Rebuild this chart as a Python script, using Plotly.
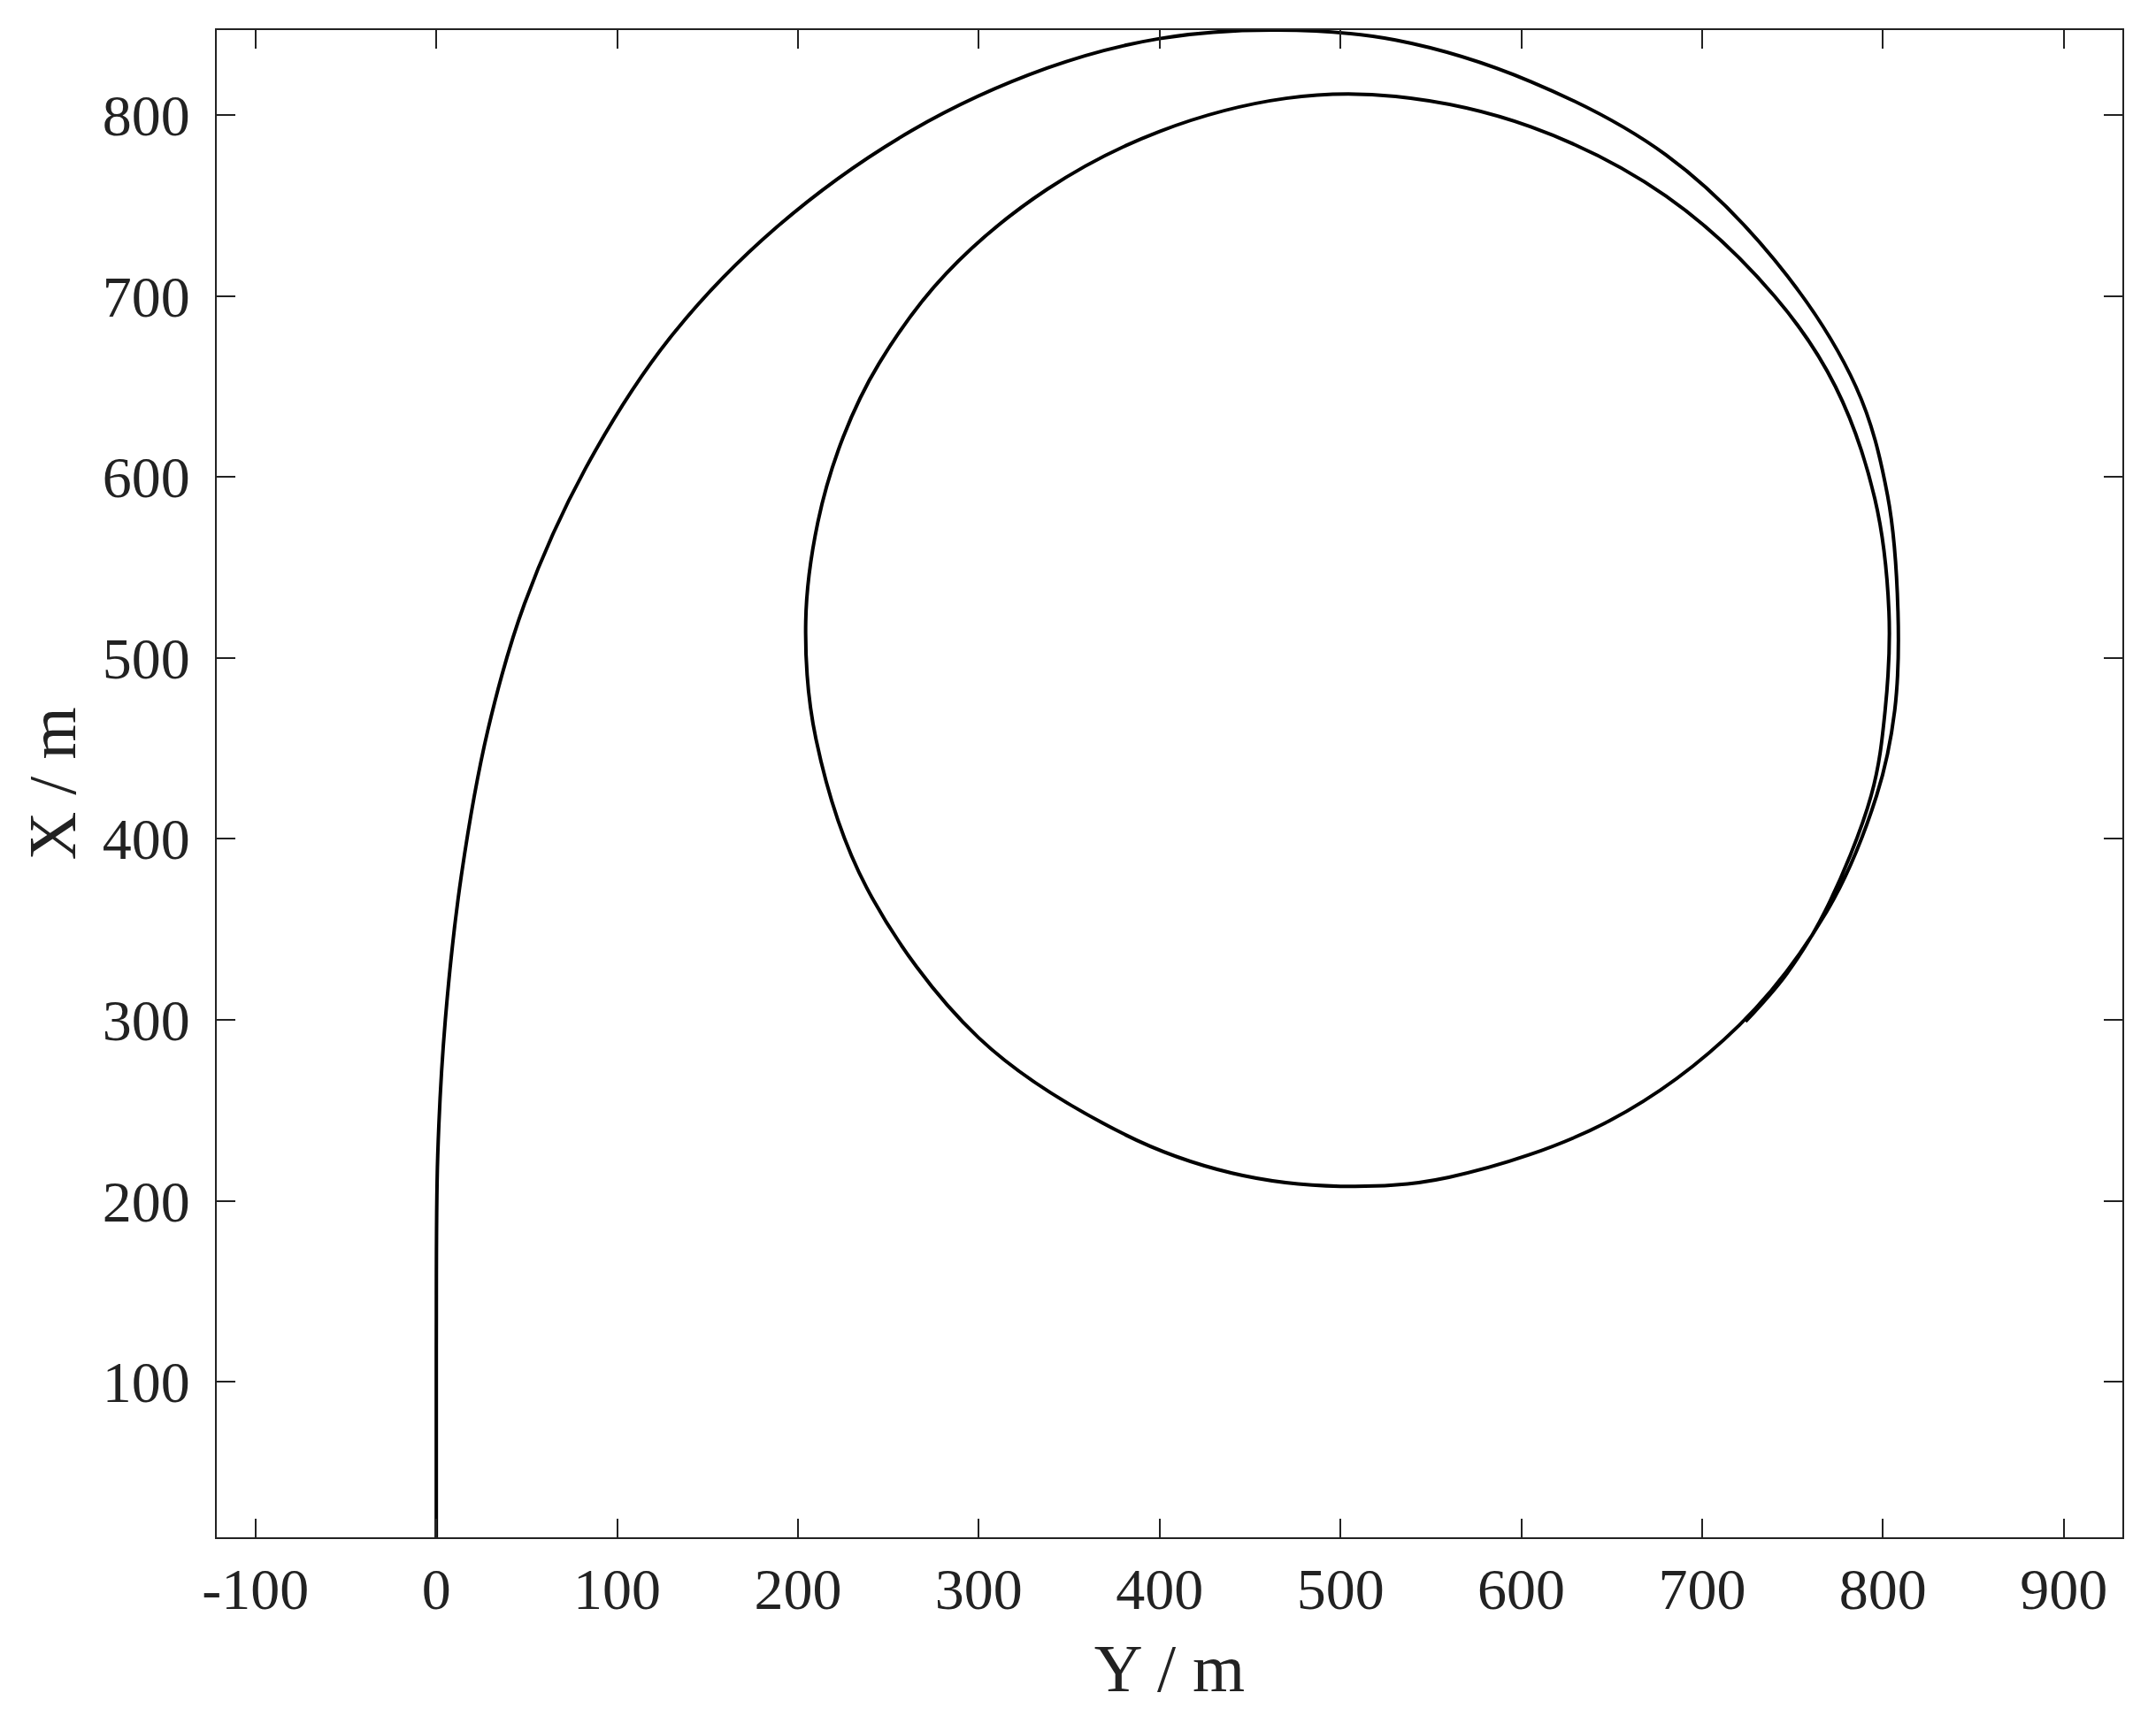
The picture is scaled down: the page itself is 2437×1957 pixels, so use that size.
import plotly.graph_objects as go

# Turning trajectory: Y (horizontal) and X (vertical), in m
traj_y = [0, 0, 0.8, 5, 13.9, 28.5, 48.8, 82.5, 129.3, 188.1, 263, 337.8, 400, 465,
          530.4, 605.3, 680, 740, 785, 802.5, 808.3, 806.5, 796.5, 769, 720.5, 648.4,
          560, 500, 440, 380, 300, 238, 210, 204.3, 211, 225, 245, 281.8, 337.8, 400, 470,
          530.4, 605.3, 680, 740, 773.7, 795.5, 803.3, 801.2, 793.5, 768, 746.5, 724]
traj_x = [14, 120, 225, 300, 380, 460, 530, 604.7, 677, 738, 791.5, 826, 842.3, 847,
          841.5, 818.5, 778, 720, 650, 590, 525.7, 471, 424, 360, 297, 244,
          213, 208, 215.3, 237, 290, 373, 455, 520, 575, 622, 663, 712.3, 759, 791, 809.3,
          810.3, 793.5, 755.3, 700, 650, 588, 525.7, 471, 424, 360, 325, 299]

x_ticks = [-100, 0, 100, 200, 300, 400, 500, 600, 700, 800, 900]
x_labels = ['-100', '0', '100', '200', '300', '400', '500', '600', '700', '800', '900']
y_ticks = [100, 200, 300, 400, 500, 600, 700, 800]

fig = go.Figure()
fig.add_trace(go.Scatter(
    x=traj_y, y=traj_x,
    mode='lines',
    line=dict(color='black', width=4, shape='spline', smoothing=1.0),
    showlegend=False
))

axis_style = dict(
    showgrid=False, zeroline=False,
    showline=True, linecolor='#222', linewidth=2, mirror='ticks',
    ticks='inside', ticklen=21, tickwidth=2, tickcolor='#222',
    tickfont=dict(family='Liberation Serif', size=66, color='#222'),
)

fig.update_layout(
    width=2429, height=1949,
    margin=dict(l=237, r=38, t=26, b=219),
    plot_bgcolor='white', paper_bgcolor='white',
    font=dict(family='Liberation Serif', color='#222'),
    xaxis=dict(axis_style, range=[-121.4, 932.4], tickvals=x_ticks, ticktext=x_labels,
               title=dict(text='Y / m', font=dict(size=76), standoff=27)),
    yaxis=dict(axis_style, range=[14, 847], tickvals=y_ticks, ticklabelstandoff=15,
               title=dict(text='X / m', font=dict(size=76), standoff=5)),
)

fig.write_html("out.html")
